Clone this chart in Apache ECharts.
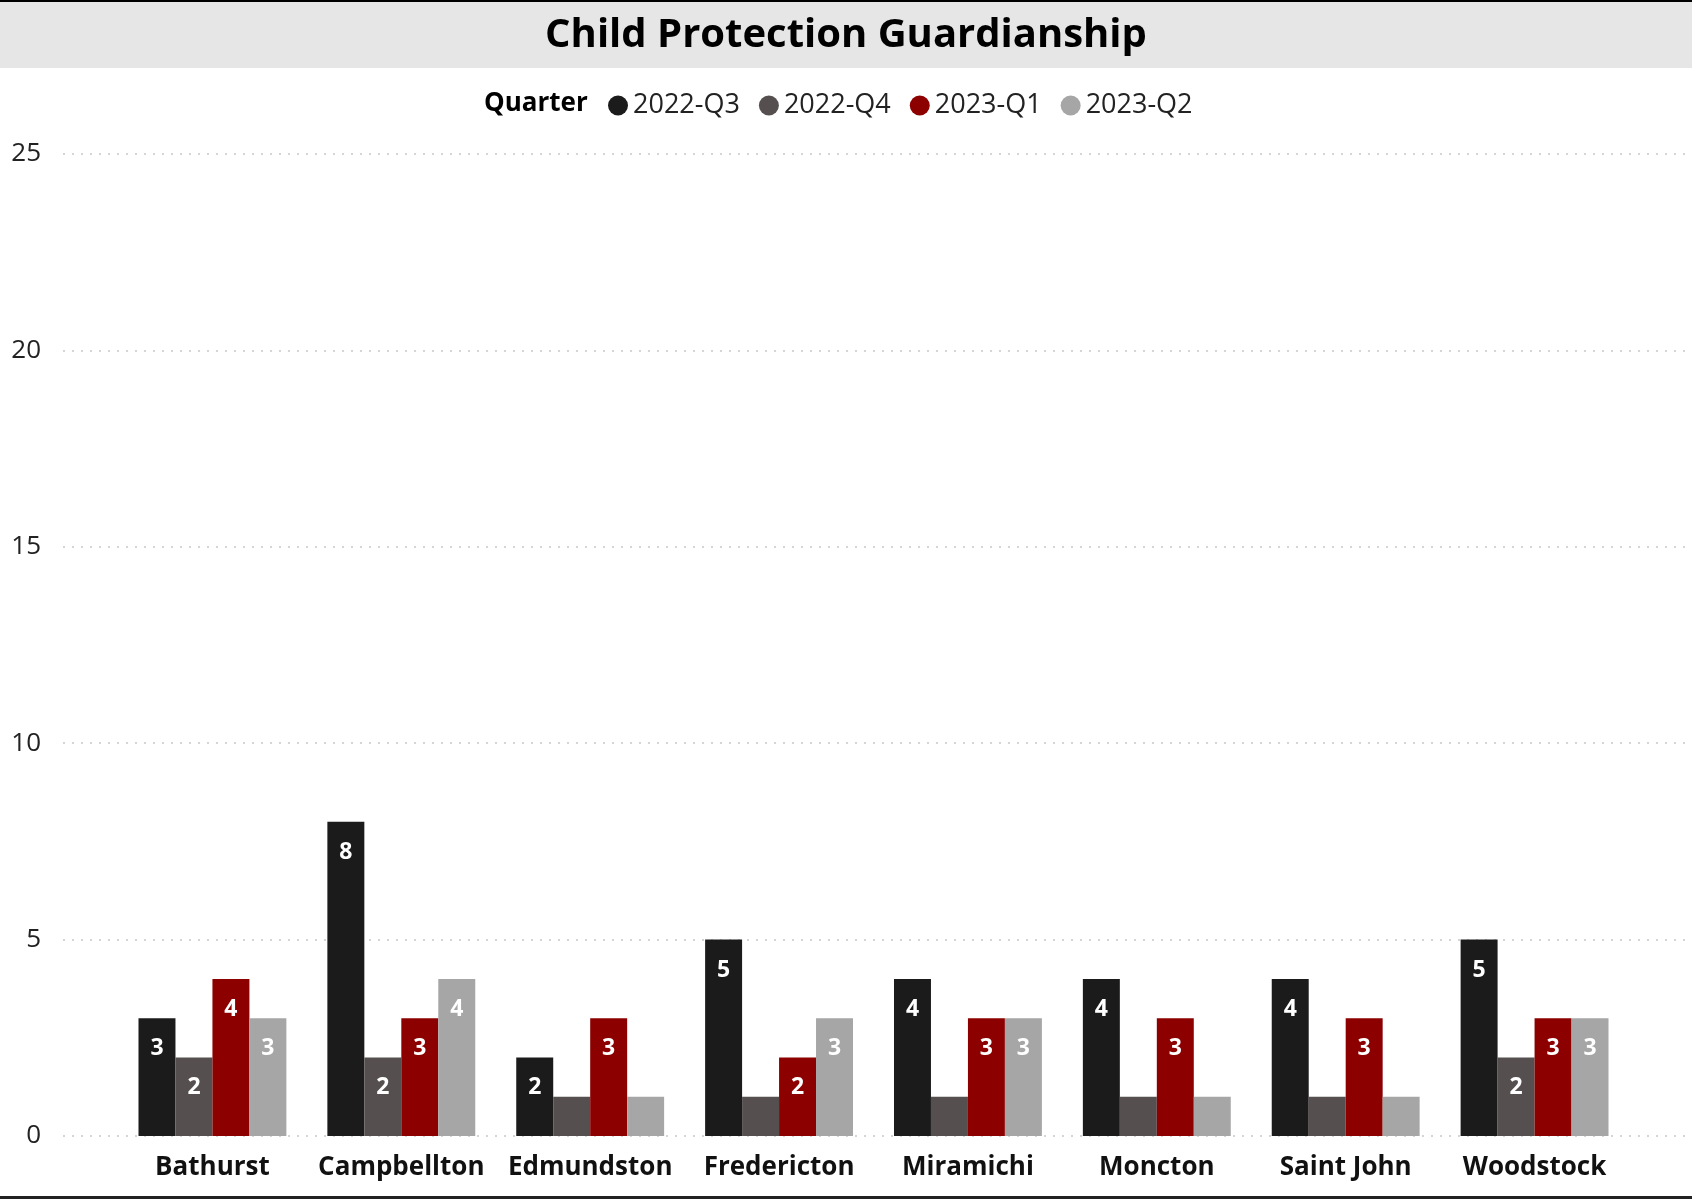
<!DOCTYPE html>
<html><head><meta charset="utf-8">
<script src="https://cdn.jsdelivr.net/npm/echarts@6/dist/echarts.min.js"></script>
<style>html,body{margin:0;padding:0;background:#fff}#c{width:1692px;height:1200px}</style>
</head><body><div id="c"></div>
<script>
const categories = ['Bathurst','Campbellton','Edmundston','Fredericton','Miramichi','Moncton','Saint John','Woodstock'];
const quarters = ['2022-Q3','2022-Q4','2023-Q1','2023-Q2'];
const q2022Q3 = [3,8,2,5,4,4,4,5];
const q2022Q4 = [2,2,1,1,1,1,1,2];
const q2023Q1 = [4,3,3,2,3,3,3,3];
const q2023Q2 = [3,4,1,3,3,1,1,3];
const yTicks = [0,5,10,15,20,25];

const seriesValues = [q2022Q3,q2022Q4,q2023Q1,q2023Q2];
const colors = ['#1b1b1b','#564f4f','#8c0000','#a6a6a6'];
const FONT = '"Open Sans", "Noto Sans", sans-serif';

const chart = echarts.init(document.getElementById('c'));
chart.setOption({
  animation:false,
  textStyle:{fontFamily:FONT},
  color:colors,
  graphic:[
    {type:'rect',left:0,top:0,shape:{width:1692,height:68},style:{fill:'#e6e6e6'},z:0},
    {type:'rect',left:0,top:0,shape:{width:1692,height:2},style:{fill:'#000'},z:1},
    {type:'rect',left:0,top:1196,shape:{width:1692,height:3},style:{fill:'#222'},z:1},
    {type:'text',left:'center',top:16,style:{text:'Child Protection Guardianship',font:'bold 40px '+FONT,fill:'#000'},z:2},
    {type:'text',left:484,top:91,style:{text:'Quarter',font:'bold 26px '+FONT,fill:'#000'},z:2}
  ],
  legend:{
    data:quarters, left:603, top:87, icon:'circle', itemWidth:20, itemHeight:20, itemGap:19,
    textStyle:{fontSize:27,color:'#222',fontFamily:FONT}
  },
  grid:[
    {left:118,right:63,top:154,bottom:64},
    {left:63,right:0,top:154,bottom:64}
  ],
  xAxis:[
    {type:'category',gridIndex:0,data:categories,axisLine:{show:false},axisTick:{show:false},
     axisLabel:{interval:0,fontSize:26,fontWeight:'bold',color:'#111',margin:19,fontFamily:FONT}},
    {type:'value',gridIndex:1,show:false,min:0,max:1}
  ],
  yAxis:[
    {type:'value',gridIndex:0,min:0,max:25,interval:5,show:false,splitLine:{show:false}},
    {type:'value',gridIndex:1,min:0,max:25,interval:5,axisLine:{show:false},axisTick:{show:false},
     axisLabel:{fontSize:26,color:'#222',margin:22,align:'right',fontFamily:FONT,
       formatter:v=>yTicks.includes(v)?String(v):''},
     splitLine:{show:true,lineStyle:{type:[2,7],color:'#c8c8c8',width:1.5}}}
  ],
  series:seriesValues.map((vals,i)=>({
    name:quarters[i], type:'bar', xAxisIndex:0, yAxisIndex:0, data:vals,
    barGap:'0%', barCategoryGap:'21.7%',
    itemStyle:{color:colors[i]},
    label:{show:true,position:'insideTop',distance:19,color:'#fff',fontWeight:'bold',fontSize:23,fontFamily:FONT,
      formatter:p=>p.value>=2?String(p.value):''}
  }))
});
</script></body></html>
